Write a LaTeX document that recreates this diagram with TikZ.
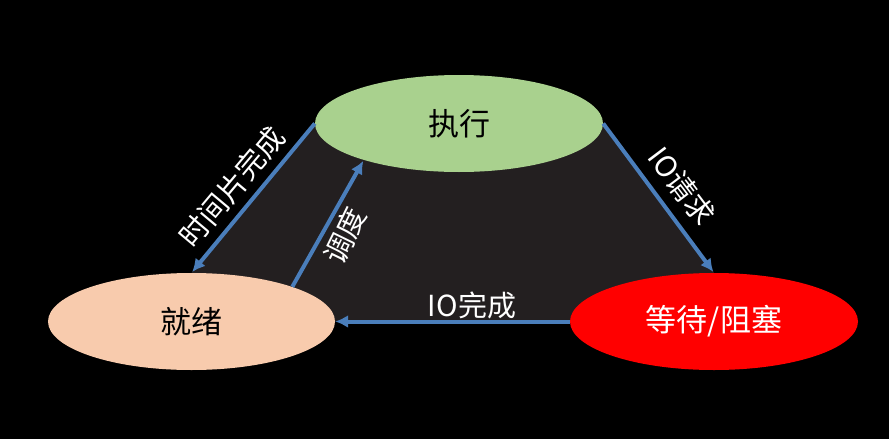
\documentclass[tikz,border=0pt]{standalone}
\usepackage{fontspec}
\setmainfont{Noto Sans CJK SC}
\usetikzlibrary{shapes.geometric,arrows.meta,backgrounds}
\definecolor{bgblack}{HTML}{000000}
\definecolor{innergray}{HTML}{231F20}
\definecolor{execgreen}{HTML}{A9D18E}
\definecolor{readypeach}{HTML}{F8CBAD}
\definecolor{waitred}{HTML}{FF0000}
\definecolor{arrowblue}{HTML}{4A7EBB}
\tikzset{
  state/.style={ellipse, minimum width=288pt, minimum height=97pt, inner sep=0pt, font=\fontsize{31}{33}\selectfont},
  trans/.style={draw=arrowblue, line width=4pt, -{Latex[length=13pt,width=13pt]}},
  lbl/.style={text=white, font=\fontsize{29}{31}\selectfont, inner sep=0pt}
}
\begin{document}
\begin{tikzpicture}[x=1pt,y=-1pt]
\useasboundingbox (0,0) rectangle (889,439);
\node[state, fill=execgreen, text=black] (exec) at (459,123.5) {执行};
\node[state, fill=readypeach, text=black, minimum width=287pt] (ready) at (191.5,321.5) {就绪};
\node[state, fill=waitred, text=white] (wait) at (714,321.5) {等待/阻塞};
\begin{pgfonlayer}{background}
  \fill[bgblack] (0,0) rectangle (889,439);
  \fill[innergray] (exec.west) -- (exec.east) -- (wait.north) -- (wait.center) -- (ready.center) -- (ready.north) -- cycle;
\end{pgfonlayer}
\draw[trans, shorten >=1pt] (exec.west) -- (ready.north);
\draw[trans, shorten >=1pt] (ready.19) -- (exec.201);
\draw[trans, shorten >=1pt] (exec.east) -- (wait.north);
\draw[trans] (wait.west) -- (ready.east);
\node[lbl, rotate=50] (l1) at (232,187) {时间片完成};
\node[lbl, rotate=64] (l2) at (345,236) {调度};
\node[lbl, rotate=-53] (l3) at (682,186) {IO请求};
\node[lbl] (l4) at (472,305) {IO完成};
\end{tikzpicture}
\end{document}
